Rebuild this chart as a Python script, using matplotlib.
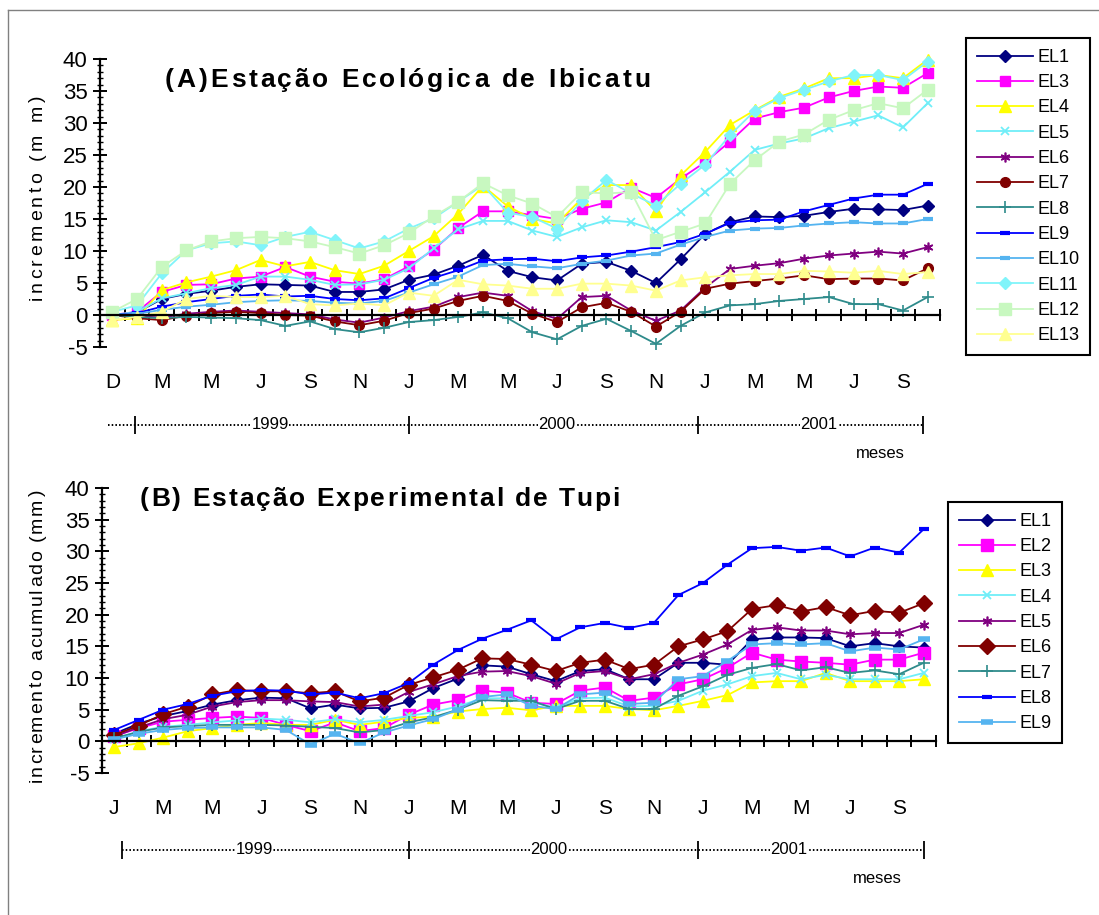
import numpy as np
import matplotlib
matplotlib.use("Agg")
import matplotlib.pyplot as plt
from matplotlib.ticker import MultipleLocator
from matplotlib.lines import Line2D

plt.rcParams['font.family'] = ['Liberation Sans', 'DejaVu Sans']
plt.rcParams['axes.unicode_minus'] = False

# ---- data ----
months_a = ['D', 'M', 'M', 'J', 'S', 'N', 'J', 'M', 'M', 'J', 'S', 'N', 'J', 'M', 'M', 'J', 'S']
months_b = ['J', 'M', 'M', 'J', 'S', 'N', 'J', 'M', 'M', 'J', 'S', 'N', 'J', 'M', 'M', 'J', 'S']
years = ['1999', '2000', '2001']

# panel A - Estação Ecológica de Ibicatu
a_el1 = [0.0, 0.4, 2.5, 3.3, 3.8, 4.4, 4.8, 4.7, 4.6, 3.6, 3.6, 4.0, 5.5, 6.3, 7.7, 9.4, 6.9, 5.9, 5.4, 8.0, 8.3, 6.9, 5.0, 8.7, 12.7, 14.5, 15.4, 15.3, 15.5, 16.1, 16.6, 16.5, 16.4, 17.1]
a_el3 = [0.0, 0.5, 3.6, 4.7, 4.8, 5.7, 6.0, 7.5, 6.0, 5.2, 4.9, 5.6, 7.6, 10.2, 13.6, 16.2, 16.2, 15.6, 15.0, 16.6, 17.6, 19.9, 18.3, 21.3, 23.9, 27.1, 30.7, 31.7, 32.4, 34.0, 35.0, 35.7, 35.5, 37.8]
a_el4 = [-0.8, -0.5, 3.9, 5.1, 6.0, 7.0, 8.6, 7.6, 8.3, 7.0, 6.4, 7.7, 10.0, 12.3, 15.8, 20.2, 17.0, 15.0, 14.3, 18.2, 20.3, 20.3, 16.2, 21.8, 25.5, 29.7, 32.0, 34.1, 35.4, 37.0, 37.0, 37.5, 37.0, 39.9]
a_el5 = [0.0, 0.5, 2.6, 3.4, 4.2, 4.7, 6.0, 6.0, 5.5, 4.7, 4.8, 5.5, 7.3, 10.4, 13.4, 14.7, 14.7, 13.2, 12.2, 13.7, 14.8, 14.5, 13.2, 16.1, 19.2, 22.4, 25.8, 26.8, 27.6, 29.2, 30.2, 31.2, 29.3, 33.1]
a_el6 = [0.0, -0.2, -0.4, 0.2, 0.5, 0.7, 0.5, 0.3, 0.1, -0.7, -1.2, -0.4, 0.6, 1.3, 2.8, 3.5, 3.0, 0.6, -0.6, 2.8, 3.0, 0.7, -0.9, 0.7, 4.3, 7.2, 7.7, 8.1, 8.8, 9.3, 9.6, 9.9, 9.6, 10.6]
a_el7 = [0.0, -0.5, -0.8, -0.1, 0.3, 0.5, 0.3, 0.0, -0.1, -1.0, -1.6, -0.9, 0.3, 1.0, 2.2, 3.0, 2.2, 0.2, -1.1, 1.2, 1.9, 0.5, -1.8, 0.5, 4.1, 4.9, 5.3, 5.7, 6.2, 5.6, 5.7, 5.7, 5.4, 7.3]
a_el8 = [0.0, -0.3, -0.5, -0.3, -0.4, -0.5, -0.8, -1.7, -1.0, -2.2, -2.7, -2.0, -1.1, -0.8, -0.3, 0.4, -0.5, -2.7, -3.8, -1.7, -0.6, -2.5, -4.5, -1.7, 0.4, 1.5, 1.7, 2.2, 2.5, 2.8, 1.7, 1.7, 0.7, 2.8]
a_el9 = [0.0, 0.3, 1.3, 2.0, 2.5, 3.0, 3.2, 2.9, 3.0, 2.5, 2.3, 2.6, 4.2, 5.8, 7.0, 8.5, 8.7, 8.8, 8.4, 9.0, 9.3, 9.9, 10.6, 11.4, 12.7, 14.4, 14.8, 14.9, 16.2, 17.2, 18.2, 18.8, 18.8, 20.5]
a_el10 = [0.0, 0.2, 0.8, 1.3, 1.6, 2.0, 2.2, 2.3, 2.2, 1.9, 1.8, 2.2, 3.5, 4.8, 6.0, 7.8, 8.0, 7.6, 7.3, 8.0, 8.5, 9.3, 9.6, 11.0, 12.2, 13.2, 13.5, 13.6, 14.0, 14.3, 14.5, 14.3, 14.3, 15.0]
a_el11 = [0.5, 1.5, 6.5, 10.1, 11.2, 11.5, 10.9, 12.2, 13.0, 11.7, 10.4, 11.5, 13.5, 15.1, 17.7, 20.3, 16.0, 15.3, 13.5, 17.8, 21.1, 19.0, 17.1, 20.5, 23.5, 28.1, 31.9, 33.9, 35.2, 36.5, 37.5, 37.5, 36.7, 39.6]
a_el12 = [0.5, 2.5, 7.5, 10.1, 11.5, 12.0, 12.2, 12.0, 11.5, 10.6, 9.6, 10.9, 12.8, 15.4, 17.7, 20.6, 18.7, 17.4, 15.3, 19.2, 19.0, 19.2, 11.7, 13.0, 14.3, 20.5, 24.2, 27.1, 28.2, 30.5, 32.0, 33.1, 32.3, 35.2]
a_el13 = [-0.8, -0.3, 0.5, 2.5, 3.0, 2.8, 2.8, 3.0, 1.7, 1.5, 1.8, 1.5, 3.5, 3.0, 5.5, 4.8, 4.6, 4.1, 4.1, 4.9, 4.9, 4.6, 3.8, 5.4, 5.9, 6.2, 6.4, 6.4, 6.9, 6.8, 6.6, 6.9, 6.4, 6.7]

# panel B - Estação Experimental de Tupi
b_el1 = [1.2, 2.8, 4.0, 4.8, 5.8, 6.5, 6.9, 6.8, 5.2, 5.8, 5.2, 5.3, 6.3, 8.4, 9.9, 12.0, 11.8, 10.6, 9.5, 11.1, 11.4, 9.8, 9.8, 12.4, 12.4, 12.1, 16.1, 16.4, 16.4, 16.3, 15.0, 15.5, 15.0, 14.8]
b_el2 = [0.8, 2.1, 3.1, 3.4, 3.7, 3.9, 3.7, 2.6, 1.6, 3.0, 1.6, 2.1, 4.2, 5.8, 6.5, 8.0, 7.7, 6.1, 5.9, 8.0, 8.5, 6.4, 6.9, 9.0, 9.8, 11.6, 14.0, 12.9, 12.6, 12.4, 12.1, 12.9, 12.9, 14.0]
b_el3 = [-0.9, -0.3, 0.6, 1.6, 2.1, 2.6, 2.9, 2.6, 2.6, 3.4, 2.6, 3.1, 3.7, 3.9, 4.7, 5.1, 5.3, 4.9, 5.6, 5.6, 5.6, 5.1, 4.9, 5.6, 6.4, 7.3, 9.3, 9.5, 9.5, 10.8, 9.5, 9.5, 9.5, 9.8]
b_el4 = [0.3, 1.6, 2.3, 2.6, 3.0, 3.3, 3.6, 3.4, 3.0, 3.5, 3.0, 3.4, 4.0, 4.6, 5.5, 6.8, 6.8, 6.2, 5.3, 6.8, 6.9, 5.5, 5.6, 6.4, 8.0, 9.0, 10.3, 10.8, 9.8, 10.5, 9.8, 9.8, 9.8, 10.8]
b_el5 = [0.8, 2.2, 3.5, 4.2, 5.5, 6.2, 6.5, 6.5, 6.3, 6.2, 5.5, 5.8, 7.8, 9.0, 10.3, 11.0, 11.1, 10.3, 9.1, 10.8, 11.1, 9.8, 10.6, 12.4, 13.7, 15.3, 17.6, 18.0, 17.5, 17.5, 16.9, 17.1, 17.1, 18.4]
b_el6 = [1.0, 2.5, 4.3, 5.5, 7.4, 8.1, 7.9, 7.9, 7.6, 7.9, 6.3, 6.9, 8.9, 10.1, 11.3, 13.1, 13.0, 12.1, 11.1, 12.4, 12.9, 11.4, 12.1, 15.0, 16.1, 17.4, 20.9, 21.5, 20.5, 21.2, 19.9, 20.6, 20.3, 21.8]
b_el7 = [0.5, 1.5, 2.2, 2.4, 2.6, 2.6, 2.6, 2.5, 2.3, 2.1, 1.4, 1.8, 3.0, 3.8, 5.0, 6.5, 6.4, 6.4, 5.1, 6.4, 6.4, 5.1, 5.1, 7.2, 8.7, 10.5, 11.6, 12.2, 11.2, 11.7, 10.8, 11.2, 10.6, 12.4]
b_el8 = [1.8, 3.4, 5.0, 5.9, 7.2, 7.9, 8.1, 8.0, 7.4, 7.7, 6.8, 7.6, 9.2, 12.1, 14.4, 16.2, 17.6, 19.1, 16.1, 18.0, 18.7, 17.9, 18.7, 23.1, 25.0, 27.9, 30.5, 30.7, 30.1, 30.6, 29.2, 30.6, 29.8, 33.5]
b_el9 = [0.3, 1.2, 1.8, 2.1, 2.2, 2.2, 2.2, 1.8, -0.5, 1.2, -0.3, 1.4, 2.5, 3.5, 5.0, 7.0, 7.4, 5.6, 5.1, 7.4, 7.7, 5.9, 6.1, 9.8, 10.3, 12.7, 15.3, 15.5, 15.3, 15.5, 14.2, 14.8, 14.5, 16.1]

series_a = [('EL1', a_el1), ('EL3', a_el3), ('EL4', a_el4), ('EL5', a_el5), ('EL6', a_el6),
            ('EL7', a_el7), ('EL8', a_el8), ('EL9', a_el9), ('EL10', a_el10), ('EL11', a_el11),
            ('EL12', a_el12), ('EL13', a_el13)]
series_b = [('EL1', b_el1), ('EL2', b_el2), ('EL3', b_el3), ('EL4', b_el4), ('EL5', b_el5),
            ('EL6', b_el6), ('EL7', b_el7), ('EL8', b_el8), ('EL9', b_el9)]

# ---- styles ----
STAR = (6, 2, 0)
style_a = [
    dict(color='#000080', marker='D', ms=6),
    dict(color='#FF00FF', marker='s', ms=7),
    dict(color='#FFFF00', marker='^', ms=8),
    dict(color='#70EEF8', marker='x', ms=6, mew=1.3),
    dict(color='#800080', marker=STAR, ms=7, mew=1.2),
    dict(color='#800000', marker='o', ms=7),
    dict(color='#2E8B8B', marker='+', ms=8, mew=1.2),
    dict(color='#0000FF', marker='_', ms=7, mew=3),
    dict(color='#55B4F0', marker='_', ms=7, mew=3),
    dict(color='#80F4FA', marker='D', ms=6),
    dict(color='#C8F8C0', marker='s', ms=8),
    dict(color='#FFFF90', marker='^', ms=8),
]
style_b = [
    dict(color='#000080', marker='D', ms=6),
    dict(color='#FF00FF', marker='s', ms=8),
    dict(color='#FFFF00', marker='^', ms=8),
    dict(color='#70EEF8', marker='x', ms=6, mew=1.3),
    dict(color='#800080', marker=STAR, ms=7, mew=1.2),
    dict(color='#800000', marker='D', ms=8),
    dict(color='#2E8B8B', marker='+', ms=8, mew=1.2),
    dict(color='#0000FF', marker='_', ms=7, mew=3),
    dict(color='#55B4F0', marker='_', ms=9, mew=4),
]

W, H = 1099, 915
fig = plt.figure(figsize=(W / 100, H / 100), dpi=100)
renderer = fig.canvas.get_renderer()


def fx(px):
    return px / W


def fy(py):
    return 1 - py / H


def text_width(s, **kw):
    t = fig.text(0, 0, s, **kw)
    w = t.get_window_extent(renderer).width
    t.remove()
    return w


def spaced_text(x0, y0, s, length, vertical=False, **kw):
    """letter-spaced text, x0/y0 = start of baseline in pixels, spread over length px"""
    space = text_width('a a', **kw) - text_width('aa', **kw)
    adv = [space if ch == ' ' else text_width(ch, **kw) for ch in s]
    extra = (length - sum(adv)) / (len(s) - 1)
    pos = 0.0
    for ch, a in zip(s, adv):
        if ch != ' ':
            if vertical:
                fig.text(fx(x0), fy(y0 - pos), ch, rotation=90, rotation_mode='anchor',
                         ha='left', va='baseline', **kw)
            else:
                fig.text(fx(x0 + pos), fy(y0), ch, ha='left', va='baseline', **kw)
        pos += a + extra


def draw_panel(rect, series, styles, months, ylabel, ylabel_span, title, title_span,
               title_base, legend_xy, bars, year_x, row_start):
    ax = fig.add_axes(rect)
    n = len(series[0][1])
    x = np.arange(n)
    handles = []
    for (name, vals), st in zip(series, styles):
        st = dict(st)
        col = st.pop('color')
        ln, = ax.plot(x, vals, color=col, lw=1.3, markerfacecolor=col,
                      markeredgecolor=col, label=name, clip_on=False, **st)
        handles.append(ln)

    ax.set_xlim(-0.5, n - 0.5)
    ax.set_ylim(-5, 40)
    for s in ['top', 'right']:
        ax.spines[s].set_visible(False)
    ax.spines['bottom'].set_position(('data', 0))
    ax.spines['bottom'].set_linewidth(1.6)
    ax.spines['left'].set_linewidth(1.6)
    ax.set_xticks(np.arange(0.5, n, 1.0))
    ax.tick_params(axis='x', direction='inout', length=9, width=1.4, labelbottom=False)
    ax.yaxis.set_major_locator(MultipleLocator(5))
    ax.yaxis.set_minor_locator(MultipleLocator(1))
    ax.tick_params(axis='y', which='major', direction='inout', length=10, width=1.4,
                   labelsize=16, pad=4)
    ax.tick_params(axis='y', which='minor', direction='inout', length=5, width=1)

    trans = ax.get_xaxis_transform()
    # month labels every second category
    for k, lab in enumerate(months):
        ax.text(2 * k, -0.125, lab, transform=trans, ha='center', va='center', fontsize=15)

    # year row
    yr = -0.27
    ax.plot([row_start, bars[-1]], [yr, yr], transform=trans, color='black', lw=1.4,
            ls=(0, (0.8, 1.1)), clip_on=False)
    ax.plot(bars, [yr] * len(bars), transform=trans, ls='none', marker='|', ms=13,
            mew=1.3, color='black', clip_on=False)
    for xx, lab in zip(year_x, years):
        ax.text(xx, yr, lab, transform=trans, ha='center', va='center', fontsize=12,
                bbox=dict(facecolor='white', edgecolor='none', pad=0.3))
    ax.text(31.1, -0.37, 'meses', transform=trans, ha='center', va='center', fontsize=12)

    spaced_text(42, ylabel_span[0], ylabel, ylabel_span[0] - ylabel_span[1],
                vertical=True, fontsize=14)
    spaced_text(title_span[0], title_base, title, title_span[1] - title_span[0],
                fontsize=19, fontweight='bold')

    leg = ax.legend(handles=handles, loc='upper left',
                    bbox_to_anchor=(fx(legend_xy[0]), fy(legend_xy[1])),
                    bbox_transform=fig.transFigure, fontsize=13, frameon=True,
                    fancybox=False, edgecolor='black', framealpha=1,
                    handlelength=3.1, handletextpad=0.25, labelspacing=0.46,
                    borderpad=0.6, borderaxespad=0)
    leg.get_frame().set_linewidth(1.5)
    return ax


draw_panel([fx(100), fy(347), fx(940) - fx(100), fy(59) - fy(347)],
           series_a, style_a, months_a, 'incremento (m m)', (300, 95),
           '(A)Estação Ecológica de Ibicatu', (165, 650), 87, (966, 38),
           bars=[0.93, 12.0, 23.7, 32.8], year_x=[6.4, 18.0, 28.6], row_start=-0.16)

draw_panel([fx(102), fy(773), fx(936) - fx(102), fy(488) - fy(773)],
           series_b, style_b, months_b, 'incremento acumulado (mm)', (782, 490),
           '(B) Estação Experimental de Tupi', (140, 620), 506, (948, 502),
           bars=[0.3, 12.0, 23.8, 33.0], year_x=[5.7, 17.7, 27.5], row_start=0.3)

# outer frame of the original figure
fig.add_artist(Line2D([fx(8), fx(8)], [fy(10), 0], color='#808080', lw=1))
fig.add_artist(Line2D([fx(8), 1], [fy(10), fy(10)], color='#808080', lw=1))

fig.savefig('out.png', dpi=100)
